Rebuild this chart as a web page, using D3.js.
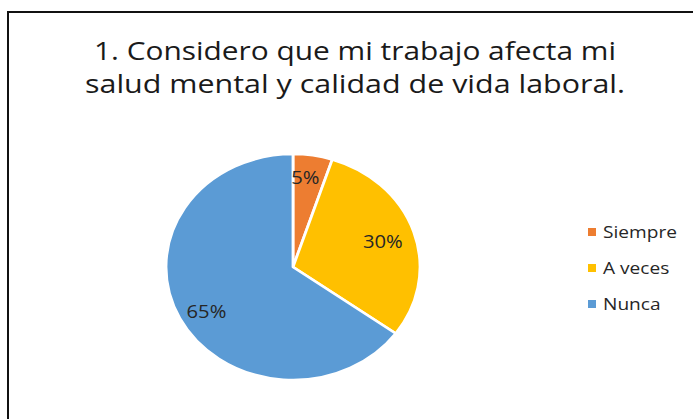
<!DOCTYPE html>
<html>
<head>
<meta charset="utf-8">
<script src="https://cdn.jsdelivr.net/npm/d3@7"></script>
<style>
  body { margin: 0; background: #fff; }
  text { font-family: "Open Sans", sans-serif; }
</style>
</head>
<body>
<svg width="693" height="419"></svg>
<script>
var categories = ["Siempre", "A veces", "Nunca"];
var values = [5, 30, 65];
var labels = ["5%", "30%", "65%"];
var colors = ["#ED7D31", "#FFC000", "#5B9BD5"];
var titleLines = ["1. Considero que mi trabajo afecta mi", "salud mental y calidad de vida laboral."];

var width = 693, height = 419;
var cx = 293, cy = 267, radius = 113, stretch = 127 / 113;

var svg = d3.select("svg");

// frame (right and bottom edges run off the picture)
svg.append("rect")
    .attr("x", 8).attr("y", 12)
    .attr("width", 720).attr("height", 450)
    .attr("fill", "#fff")
    .attr("stroke", "#111")
    .attr("stroke-width", 2);

// title
svg.append("g").selectAll("text")
  .data(titleLines)
  .enter().append("text")
    .attr("x", 355)
    .attr("y", (d, i) => 60 + i * 33)
    .attr("text-anchor", "middle")
    .attr("font-size", 26)
    .attr("fill", "#1a1a1a")
    .attr("textLength", (d, i) => i == 0 ? 522 : 540)
    .attr("lengthAdjust", "spacingAndGlyphs")
    .text(d => d);

var pie = d3.pie().sort(null).value(d => d);
var arc = d3.arc().innerRadius(0).outerRadius(radius);

var g = svg.append("g")
    .attr("transform", "translate(" + cx + "," + cy + ") scale(" + stretch + ",1)");

var arcs = pie(values);

g.selectAll("path")
  .data(arcs)
  .enter().append("path")
    .attr("d", arc)
    .attr("fill", (d, i) => colors[i])
    .attr("stroke", "#fff")
    .attr("stroke-width", 2.5)
    .attr("stroke-linejoin", "round");

// labels, offsets from the centre in unstretched space
var labelPos = [[11, -89], [80, -25], [-77, 45]];
svg.append("g").selectAll("text")
  .data(arcs)
  .enter().append("text")
    .attr("transform", (d, i) => "translate(" + (cx + labelPos[i][0] * stretch) + "," + (cy + labelPos[i][1]) + ") scale(" + stretch + ",1)")
    .attr("text-anchor", "middle")
    .attr("dy", "0.35em")
    .attr("font-size", 18)
    .attr("fill", "#262626")
    .text((d, i) => labels[i]);

// legend
var legend = svg.append("g").selectAll("g")
  .data(categories)
  .enter().append("g")
    .attr("transform", (d, i) => "translate(592," + (232 + i * 36) + ")");

legend.append("rect")
    .attr("x", -4).attr("y", -4)
    .attr("width", 8).attr("height", 8)
    .attr("fill", (d, i) => colors[i]);

legend.append("text")
    .attr("transform", "translate(11,0) scale(" + stretch + ",1)")
    .attr("dy", "0.35em")
    .attr("font-size", 17)
    .attr("fill", "#262626")
    .text(d => d);
</script>
</body>
</html>
